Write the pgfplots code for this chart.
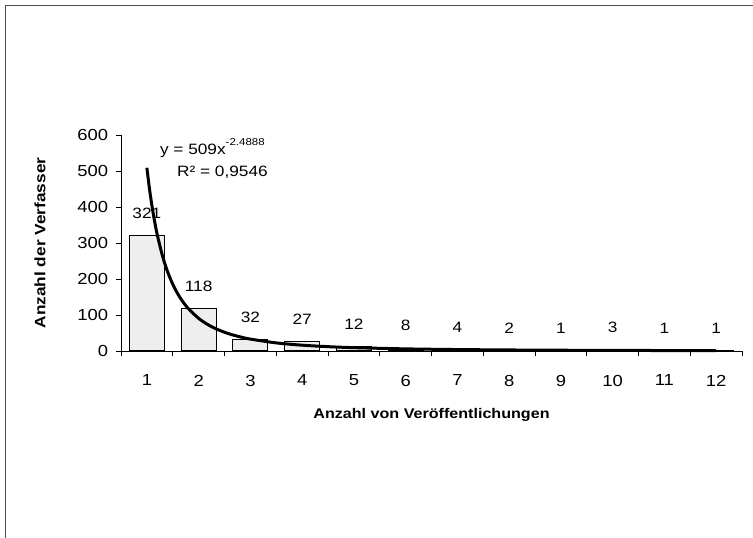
\documentclass[border=0pt]{standalone}
\usepackage{fontspec}
\setmainfont[FakeStretch=1.15]{Liberation Sans}
\usepackage{pgfplots}
\pgfplotsset{compat=1.18}
\begin{document}
\fontsize{14}{16}\selectfont
\begin{tikzpicture}[x=1pt,y=1pt]
\useasboundingbox (0,0) rectangle (753,538);
\draw[line width=1.3pt, black!70] (5.5,0) -- (5.5,532.5) -- (753,532.5);
\begin{axis}[
  at={(121pt,187pt)}, anchor=south west,
  width=621pt, height=216pt, scale only axis,
  xmin=0.5, xmax=12.5, ymin=0, ymax=600,
  axis lines*=left,
  axis line style={black, line width=0.9pt},
  tick style={black, line width=0.7pt},
  tick align=outside, major tick length=5pt,
  ytick={0,100,...,600},
  xtick={0.5,1.5,...,12.5}, xticklabels={},
  extra x ticks={1,2,3,4,5,6,7,8,9,10,11,12},
  extra x tick labels={1,2,3,4,5,6,7,8,9,10,11,12},
  extra x tick style={major tick length=0pt, tick label style={yshift=-19pt}},
  /pgf/number format/assume math mode=true,
  yticklabel style={xshift=-3pt},
  ticklabel style={font=\fontsize{16}{18}\selectfont},
  xlabel={Anzahl von Veröffentlichungen},
  ylabel={Anzahl der Verfasser},
  xlabel style={at={(axis description cs:0.5,0)}, anchor=center, yshift=-64pt, font=\bfseries\fontsize{14}{16}\selectfont},
  ylabel style={at={(axis description cs:-0.1304,0.5)}, anchor=center, font=\bfseries\fontsize{15}{17}\selectfont},
  clip=false,
]
\addplot[ybar, bar width=35pt, fill=gray!13, draw=black, line width=1.1pt,
  nodes near coords, nodes near coords style={anchor=south, yshift=12pt, font=\fontsize{15}{17}\selectfont, text=black},
  point meta=explicit symbolic]
  coordinates {(1,321)[321] (2,118)[118] (3,32)[32] (4,27)[27] (5,12)[12] (6,8)[8]
               (7,4)[4] (8,2)[2] (9,1)[1] (10,3)[3] (11,1)[1] (12,1)[1]};
\addplot[black, line width=3pt, smooth, mark=none] coordinates {
  (1,509) (1.05,450.8) (1.1,401.5) (1.15,359.5) (1.2,323.4) (1.3,264.9) (1.4,220.3)
  (1.5,185.5) (1.6,158.0) (1.7,135.9) (1.8,117.9) (2.0,90.7) (2.2,71.5) (2.4,57.6)
  (2.6,47.2) (2.8,39.25) (3,33.06) (3.5,22.5) (4,16.15) (4.5,12.05) (5,9.27)
  (6,5.89) (7,4.02) (8,2.88) (9,2.15) (10,1.65) (11,1.30) (12,1.05)};
\node[anchor=west, inner sep=0pt, font=\fontsize{15}{17}\selectfont] at (axis cs:1.25,564) {y = 509x\raisebox{0.55em}{\fontsize{10}{11}\selectfont -2.4888}};
\node[anchor=west, inner sep=0pt, font=\fontsize{15}{17}\selectfont] at (axis cs:1.58,497) {R² = 0,9546};
\end{axis}
\end{tikzpicture}
\end{document}
